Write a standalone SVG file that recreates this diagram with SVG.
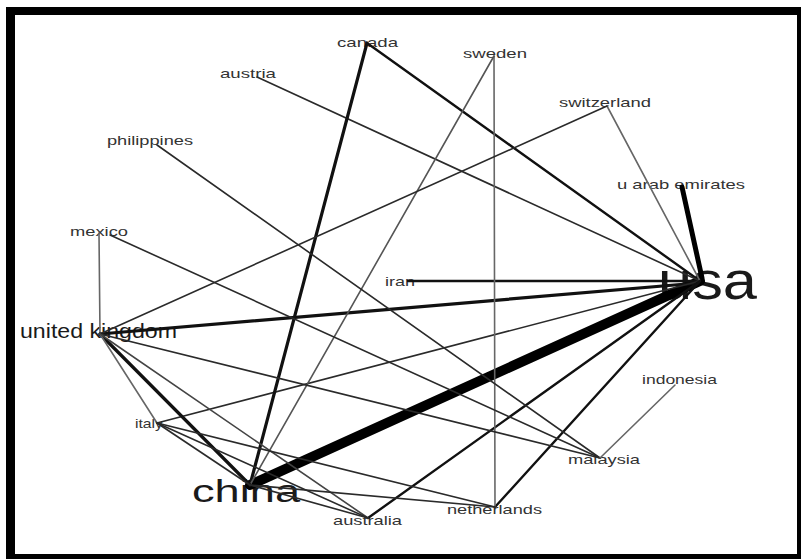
<svg xmlns="http://www.w3.org/2000/svg" width="801" height="559" viewBox="0 0 801 559">
<style>
.lbl{font-family:"Liberation Sans",Arial,sans-serif;fill:#333;font-size:13px}
.big{font-family:"Liberation Sans",Arial,sans-serif;fill:#1a1a1a}
.e{stroke:#2a2a2a;stroke-width:1.6;fill:none;stroke-linecap:round}
.g{stroke:#666;stroke-width:1.6}
.w2{stroke:#111;stroke-width:2.4}
.w3{stroke:#111;stroke-width:3.2}
</style>
<rect x="0" y="0" width="801" height="559" fill="#fff"/>
<rect x="6" y="7" width="800" height="560" fill="#000"/>
<rect x="15" y="15" width="782" height="539" fill="#fff"/>
<g id="node-usa"><text class="big" x="658" y="299" font-size="53" textLength="99" lengthAdjust="spacingAndGlyphs">usa</text></g>
<g id="node-china"><text class="big" x="192" y="502" font-size="32" textLength="108" lengthAdjust="spacingAndGlyphs">china</text></g>
<g id="node-united-kingdom"><text class="big" x="20" y="338" font-size="20" fill="#333" textLength="157" lengthAdjust="spacingAndGlyphs">united kingdom</text></g>
<g id="node-canada"><text class="lbl" x="337" y="47" textLength="61" lengthAdjust="spacingAndGlyphs">canada</text></g>
<g id="node-austria"><text class="lbl" x="220" y="78" textLength="56" lengthAdjust="spacingAndGlyphs">austria</text></g>
<g id="node-sweden"><text class="lbl" x="463" y="58" textLength="64" lengthAdjust="spacingAndGlyphs">sweden</text></g>
<g id="node-switzerland"><text class="lbl" x="559" y="107" textLength="92" lengthAdjust="spacingAndGlyphs">switzerland</text></g>
<g id="node-philippines"><text class="lbl" x="107" y="145" textLength="86" lengthAdjust="spacingAndGlyphs">philippines</text></g>
<g id="node-u-arab-emirates"><text class="lbl" x="617" y="189" textLength="128" lengthAdjust="spacingAndGlyphs">u arab emirates</text></g>
<g id="node-mexico"><text class="lbl" x="70" y="236" textLength="58" lengthAdjust="spacingAndGlyphs">mexico</text></g>
<g id="node-iran"><text class="lbl" x="385" y="286" textLength="30" lengthAdjust="spacingAndGlyphs">iran</text></g>
<g id="node-italy"><text class="lbl" x="135" y="428" font-size="11" textLength="28" lengthAdjust="spacingAndGlyphs">italy</text></g>
<g id="node-indonesia"><text class="lbl" x="642" y="384" textLength="75" lengthAdjust="spacingAndGlyphs">indonesia</text></g>
<g id="node-malaysia"><text class="lbl" x="568" y="464" textLength="72" lengthAdjust="spacingAndGlyphs">malaysia</text></g>
<g id="node-australia"><text class="lbl" x="333" y="525" textLength="69" lengthAdjust="spacingAndGlyphs">australia</text></g>
<g id="node-netherlands"><text class="lbl" x="447" y="514" textLength="95" lengthAdjust="spacingAndGlyphs">netherlands</text></g>
<g id="connectors" class="e">
<line x1="250" y1="485" x2="700" y2="281" stroke="#000" stroke-width="10"/>
<line x1="682" y1="187" x2="702" y2="278" stroke="#000" stroke-width="5"/>
<line class="w3" x1="100" y1="334" x2="698" y2="283"/>
<line class="w2" x1="408" y1="281" x2="700" y2="281"/>
<line class="w2" x1="367" y1="43" x2="700" y2="281"/>
<line x1="257" y1="77" x2="700" y2="281"/>
<line class="g" x1="607" y1="106" x2="700" y2="281"/>
<line x1="157" y1="423" x2="700" y2="281"/>
<line class="w2" x1="368" y1="518" x2="700" y2="281"/>
<line class="w2" x1="495" y1="507" x2="700" y2="281"/>
<line class="w3" x1="367" y1="43" x2="250" y2="485"/>
<line class="g" x1="494" y1="56" x2="495" y2="507"/>
<line x1="494" y1="56" x2="250" y2="485" stroke="#555"/>
<line x1="607" y1="106" x2="100" y2="334"/>
<line x1="157" y1="145" x2="600" y2="458"/>
<line class="g" x1="99" y1="233" x2="100" y2="334" stroke-width="2"/>
<line x1="110" y1="235" x2="600" y2="458"/>
<line class="w3" x1="100" y1="334" x2="250" y2="485"/>
<line class="g" x1="100" y1="334" x2="157" y2="423"/>
<line x1="100" y1="334" x2="600" y2="458"/>
<line x1="100" y1="334" x2="368" y2="518" stroke="#444"/>
<line x1="157" y1="423" x2="250" y2="485"/>
<line x1="157" y1="423" x2="368" y2="518"/>
<line x1="157" y1="423" x2="495" y2="507"/>
<line x1="250" y1="485" x2="368" y2="518"/>
<line x1="250" y1="485" x2="495" y2="507"/>
<line class="g" x1="675" y1="385" x2="600" y2="458"/>
</g>
</svg>
